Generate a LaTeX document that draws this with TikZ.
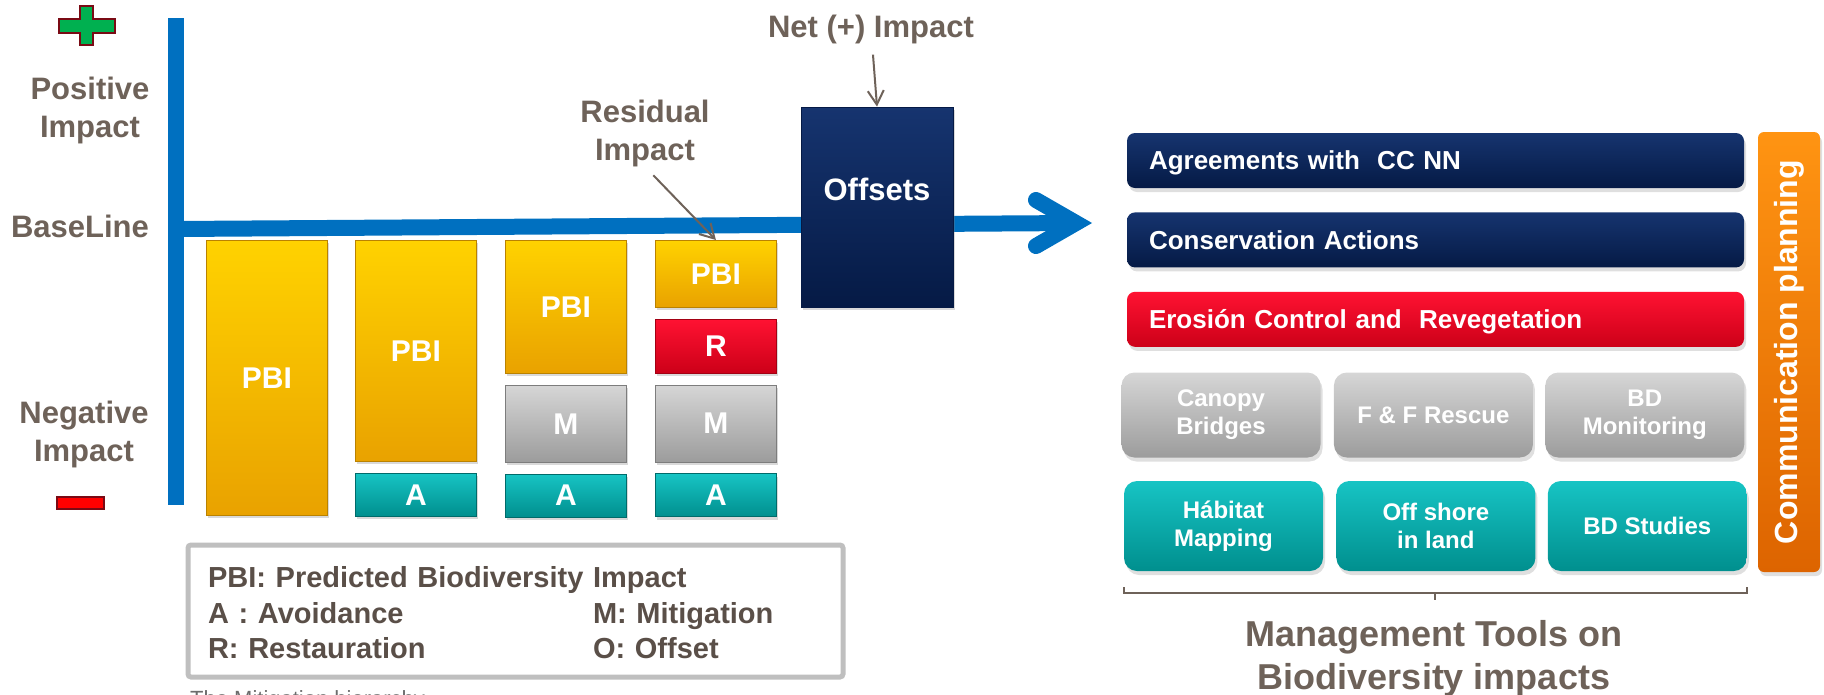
\documentclass[tikz,border=0pt]{standalone}
\usepackage{fontspec}
\setmainfont{Liberation Sans}
\usetikzlibrary{positioning,shadows,arrows.meta}
\definecolor{impblue}{HTML}{0070C0}
\definecolor{labgray}{HTML}{6E6259}
\definecolor{leggray}{HTML}{5A4F48}
\definecolor{legborder}{HTML}{BFBFBF}
\definecolor{pbitop}{HTML}{FFD200}
\definecolor{pbibot}{HTML}{E9A200}
\definecolor{teallite}{HTML}{17C4C4}
\definecolor{tealdark}{HTML}{008F8E}
\definecolor{graylite}{HTML}{D6D6D6}
\definecolor{graydark}{HTML}{9C9C9C}
\definecolor{redlite}{HTML}{FF1232}
\definecolor{reddark}{HTML}{CC0018}
\definecolor{navylite}{HTML}{16346F}
\definecolor{navydark}{HTML}{051A45}
\definecolor{orglite}{HTML}{FF9412}
\definecolor{orgdark}{HTML}{DD6400}
\definecolor{plusgreen}{HTML}{00B050}
\definecolor{edgered}{HTML}{7A0A14}
\newcommand{\fsz}[2]{\fontsize{#1}{#2}\selectfont\bfseries}

\begin{document}
\begin{tikzpicture}[x=1pt, y=-1pt,
   lab/.style={text=labgray, font=\fsz{31}{38}, align=center, inner sep=0pt},
   blk/.style={rectangle, inner sep=0pt, minimum width=121pt, text=white, font=\fsz{30}{34}, line width=0.8pt,
      drop shadow={opacity=0.3, shadow xshift=1.5pt, shadow yshift=-3pt}},
   pbi/.style={blk, top color=pbitop, bottom color=pbibot, draw=pbibot!80!black},
   avd/.style={blk, minimum height=43pt, top color=teallite, bottom color=tealdark, draw=tealdark!75!black},
   mit/.style={blk, minimum height=77pt, top color=graylite, bottom color=graydark, draw=graydark!80!black},
   rst/.style={blk, minimum height=54pt, top color=redlite, bottom color=reddark, draw=reddark!80!black},
   impaxis/.style={impblue, line width=16pt},
   callarr/.style={labgray, line width=2pt, -{Straight Barb[length=14pt, width=16pt]}},
   tool/.style={rounded corners=13pt, inner sep=0pt, text=white, font=\fsz{24}{28}, align=center,
      minimum height=85pt, minimum width=199pt, drop shadow={opacity=0.25, shadow xshift=2pt, shadow yshift=-4pt}},
   grey/.style={tool, top color=graylite, bottom color=graydark},
   teal/.style={tool, minimum height=90pt, top color=teallite, bottom color=tealdark},
   band/.style={tool, rounded corners=8pt, minimum height=55pt, align=left, text width=573pt, inner xsep=22pt,
      font=\fsz{26}{30}, text depth=0pt},
   brace/.style={labgray, line width=2.5pt}]
   \useasboundingbox (0,0) rectangle (1824,694);
   \clip (0,0) rectangle (1824,694);

   \coordinate (top) at (176,18);
   \coordinate (bot) at (176,505);
   \coordinate (orig) at (176,229);
   \coordinate (tip) at (1076,223);
   \draw[impaxis] (top) -- (bot);
   \draw[impaxis] (orig) -- (tip);
   \draw[impaxis, line cap=round, line join=miter] (1036,200) -- (tip) -- (1036,246);

   \filldraw[fill=plusgreen, draw=edgered, line width=1.5pt] (80,6) -- (93,6) -- (93,19) -- (115,19) -- (115,33)
      -- (93,33) -- (93,45) -- (80,45) -- (80,33) -- (59,33) -- (59,19) -- (80,19) -- cycle;
   \filldraw[fill=red, draw=edgered, line width=1.5pt] (57,497) rectangle (104,509);

   \node[lab] (pos) at (90,110) {Positive\\Impact};
   \node[lab] (base) at (80,226) {BaseLine};
   \node[lab] (neg) at (84,434) {Negative\\Impact};

   \node[pbi, minimum height=275pt, anchor=north west] (p1) at (206,240) {PBI};
   \node[pbi, minimum height=221pt, anchor=north west] (p2) at (355,240) {PBI};
   \node[avd, below=11pt of p2] (a2) {A};
   \node[pbi, minimum height=133pt, anchor=north west] (p3) at (505,240) {PBI};
   \node[mit, below=11pt of p3] (m3) {M};
   \node[avd, below=11pt of m3] (a3) {A};
   \node[pbi, minimum height=67pt, anchor=north west] (p4) at (655,240) {PBI};
   \node[rst, below=11pt of p4] (r4) {R};
   \node[mit, below=11pt of r4] (m4) {M};
   \node[avd, below=11pt of m4] (a4) {A};

   \node[blk, minimum width=152pt, minimum height=200pt, top color=navylite, bottom color=navydark, draw=navydark,
      font=\fsz{31}{36}, text depth=36pt] (offs) at (877,207) {Offsets};
   \node[lab] (net) at (871,29) {Net (+) Impact};
   \node[lab] (resid) at (645,133) {Residual\\Impact};
   \draw[callarr, shorten <=11pt] (net) -- (offs.north);
   \draw[callarr, shorten <=12pt] (resid.south) -- (p4.north);

   \node[draw=legborder, line width=5pt, rounded corners=3pt, minimum height=132pt, text width=615pt, inner xsep=20pt,
      text=leggray, font=\fsz{29}{35.5}, align=left, anchor=north west] (legend) at (185.5,542.5)
      {\raisebox{0pt}[\height][\dimexpr\depth-10pt\relax]{\begin{tabular}{@{}p{385pt}@{}l@{}}
         \multicolumn{2}{@{}l@{}}{PBI: Predicted Biodiversity Impact}\\
         A : Avoidance & M: Mitigation\\
         R: Restauration & O: Offset
      \end{tabular}}};
   \node[text=gray!85!black, font=\fontsize{22}{26}\selectfont, anchor=north west, inner sep=0pt] (cap) at (190,690)
      {The Mitigation hierarchy};

   \node[band, top color=navylite, bottom color=navydark] (agree) at (1435.5,160.5) {Agreements with\ \ CC NN};
   \node[band, top color=navylite, bottom color=navydark, below=24pt of agree] (cons) {Conservation Actions};
   \node[band, top color=redlite, bottom color=reddark, below=24pt of cons] (eros) {Erosión Control and\ \ Revegetation};
   \node[grey] (canopy) at (1221,415) {Canopy\\Bridges};
   \node[grey, right=13pt of canopy] (ffr) {F \& F Rescue};
   \node[grey, right=12pt of ffr] (bdmon) {BD\\Monitoring};
   \node[teal] (hab) at (1223.5,526) {Hábitat\\Mapping};
   \node[teal, right=13pt of hab] (offsh) {Off shore\\in land};
   \node[teal, right=12pt of offsh] (bdst) {BD Studies};
   \node[rounded corners=6pt, rotate=90, minimum width=440pt, minimum height=62pt, inner sep=0pt,
      top color=orglite, bottom color=orgdark, text=white, font=\fsz{32}{36},
      drop shadow={opacity=0.25, shadow xshift=2pt, shadow yshift=-4pt}] (comm) at (1789,352) {Communication planning};

   \coordinate (bl) at ([yshift=-16pt]hab.south west);
   \coordinate (br) at ([yshift=-16pt]bdst.south east);
   \coordinate (bm) at (1435,593);
   \draw[brace] (bl) -- ++(0,6) -| (br);
   \draw[brace] (bm) -- ++(0,7);
   \node[lab, font=\fsz{36}{43}, anchor=north] (title) at (1434,620) {Management Tools on\\Biodiversity impacts};
\end{tikzpicture}
\end{document}
